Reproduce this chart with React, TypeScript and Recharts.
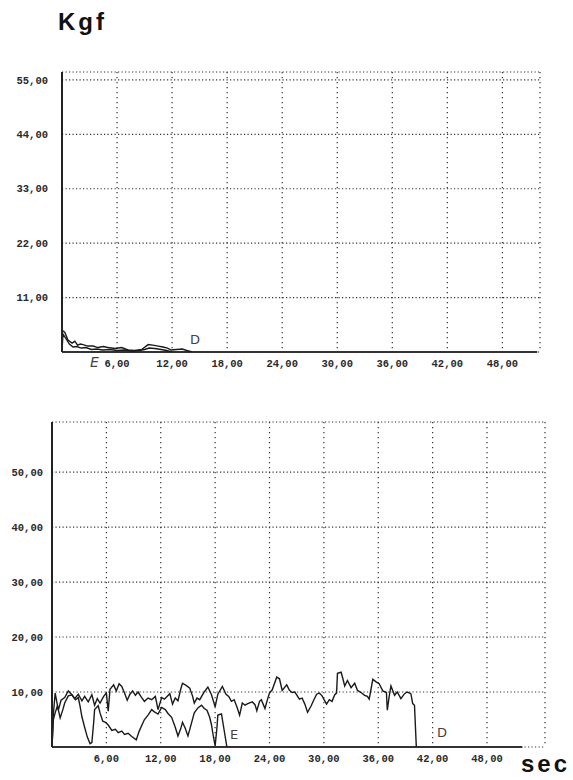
import React from 'react';
import { LineChart, Line, XAxis, YAxis, CartesianGrid, ReferenceLine } from 'recharts';

// tempo (s) e força (Kgf)
const xTicks = [6, 12, 18, 24, 30, 36, 42, 48];
const topYTicks = [11, 22, 33, 44, 55];
const bottomYTicks = [10, 20, 30, 40, 50];

const topD = [
  [0, 0], [0.05, 4.3], [0.3, 4.0], [0.65, 2.4], [1.1, 1.8], [1.4, 2.2], [1.7, 1.4], [2.0, 1.6],
  [2.3, 1.5], [2.8, 1.2], [3.4, 1.2], [3.9, 0.9], [4.5, 1.1], [5.0, 0.9], [5.8, 0.7], [6.5, 0.9],
  [7.2, 0.4], [7.9, 0.3], [8.7, 0.5], [9.1, 1.1], [9.4, 1.5], [9.9, 1.4], [10.5, 1.2], [11.0, 1.0],
  [11.5, 0.8], [11.9, 0.4], [12.5, 0.5], [13.1, 0.6], [13.6, 0.3], [14.2, 0],
];
const topE = [
  [0, 0], [0.1, 3.6], [0.4, 2.8], [0.8, 1.6], [1.2, 1.0], [1.6, 1.1], [2.1, 0.8], [2.6, 0.9],
  [3.2, 0.5], [3.8, 0.6], [4.4, 0.4], [5.2, 0.5], [6.0, 0.3], [6.8, 0.4], [7.6, 0.2], [8.4, 0.3],
  [9.0, 0.5], [9.5, 0.8], [10.1, 0.7], [10.8, 0.5], [11.4, 0.3], [12.0, 0],
];
const bottomD = [
  [0, 0], [0.15, 6], [0.35, 9.8], [0.7, 6.7], [1.0, 8.5], [1.4, 9], [1.8, 10.2], [2.2, 9.5],
  [2.5, 8.8], [2.9, 9.6], [3.3, 8.4], [3.6, 9.2], [4.0, 8.2], [4.4, 9.5], [4.7, 7.6], [5.0, 8.8],
  [5.3, 8.0], [5.7, 9.2], [6.0, 9.8], [6.2, 6.5], [6.4, 10.5], [6.8, 11.3], [7.1, 10.2], [7.4, 11.5],
  [7.7, 11], [8.0, 9.8], [8.3, 8.5], [8.6, 9.6], [8.9, 10.2], [9.2, 9.4], [9.5, 10], [9.8, 9.2],
  [10.2, 8.3], [10.6, 8.9], [11.0, 8.6], [11.4, 9.2], [11.7, 6.8], [12.1, 9], [12.4, 8.7], [13.0, 9.7],
  [13.3, 7.8], [13.6, 8.9], [13.9, 8.4], [14.2, 10.5], [14.4, 11.6], [14.8, 11.2], [15.2, 10.7],
  [15.5, 9.3], [15.7, 8], [16.0, 8.9], [16.3, 8.6], [16.8, 10], [17.2, 10.9], [17.6, 9.5], [18.0, 7.3],
  [18.3, 9.6], [18.8, 11], [19.2, 9.6], [19.5, 9.2], [19.8, 8.3], [20.1, 8.6], [20.4, 7.3], [20.7, 5.8],
  [21.0, 8], [21.3, 7.6], [21.6, 7.9], [22.1, 8.2], [22.4, 7.7], [22.6, 6.6], [22.9, 8.3], [23.1, 8.6],
  [23.5, 7], [23.8, 8.8], [24.0, 9.8], [24.3, 10.4], [24.8, 12.7], [25.1, 12.4], [25.4, 10.3],
  [25.9, 11.3], [26.2, 10.3], [26.5, 9.9], [26.8, 10], [27.3, 8.7], [27.6, 8.9], [27.9, 7.8],
  [28.2, 6.3], [28.6, 7.5], [28.9, 8.6], [29.2, 9.6], [29.5, 9.8], [29.8, 9.3], [30.1, 8.4],
  [30.3, 7.8], [30.6, 8.6], [30.9, 8.3], [31.2, 9.5], [31.4, 9.8], [31.5, 13.4], [31.9, 13.6],
  [32.1, 12.4], [32.3, 11.1], [32.6, 12.1], [33.0, 10.8], [33.4, 11.6], [33.7, 10.3], [34.1, 9.9],
  [34.5, 9.4], [34.8, 9.2], [35.0, 8.7], [35.4, 12.3], [35.8, 11.8], [36.1, 11.5], [36.5, 10.2],
  [36.9, 9.9], [37.0, 6.7], [37.2, 9.1], [37.4, 11.1], [37.8, 9.4], [38.1, 10], [38.5, 8.8],
  [38.9, 9.7], [39.2, 10], [39.6, 9.7], [39.8, 7.9], [40.0, 7.6], [40.2, 0],
];
const bottomE = [
  [0, 0], [0.15, 5], [0.35, 6.2], [0.6, 7.5], [0.9, 5.3], [1.2, 6.8], [1.4, 8], [1.8, 9.3],
  [2.2, 9.5], [2.6, 8.6], [2.9, 9], [3.1, 7.4], [3.3, 5.5], [3.6, 3.6], [3.9, 1.8], [4.2, 0.6],
  [4.4, 0.8], [4.6, 4.5], [4.7, 6.8], [5.1, 7.5], [5.3, 6.2], [5.6, 4.7], [5.9, 4.5], [6.2, 4],
  [6.6, 3], [7.0, 3.2], [7.3, 2.6], [7.7, 2.9], [8.0, 2.3], [8.4, 2.5], [8.8, 1.9], [9.3, 1.3],
  [9.6, 2.8], [9.9, 3.9], [10.2, 5], [10.6, 5.8], [11.0, 6.8], [11.3, 6.4], [11.7, 6], [12.1, 7.2],
  [12.5, 6.8], [12.8, 6.1], [13.2, 5.4], [13.6, 3.6], [13.9, 2], [14.2, 3.3], [14.4, 4.5], [14.7, 3.4],
  [15.0, 2], [15.3, 3.8], [15.7, 6.2], [16.1, 7.1], [16.5, 7.6], [16.8, 7], [17.1, 6.7], [17.4, 5.4],
  [17.6, 4], [17.8, 2], [18.0, 0.2], [18.2, 3.5], [18.3, 5.8], [18.7, 6], [19.0, 3], [19.3, 0],
];

const toPoints = (arr: number[][]) => arr.map(([t, v]) => ({ t, v }));
const fmt = (v: number) => v.toFixed(2).replace('.', ',');

const tickStyle = { fill: '#2a2a2a', fontSize: 10.5, fontWeight: 700, fontFamily: 'Liberation Mono, monospace' };
const hand = { position: 'absolute' as const, fontFamily: 'DejaVu Sans', color: '#444', fontSize: 14, fontWeight: 400 };

function Painel({ top, height, margin, yWidth, yMax, yTicks, xMax, axisEnd, yMargin, series }: any) {
  return (
    <div style={{ position: 'absolute', left: 0, top }}>
      <LineChart width={573} height={height} margin={margin}>
        <CartesianGrid horizontal={false} stroke="#333" strokeWidth={1.2} strokeDasharray="1.2 3.8" />
        <CartesianGrid vertical={false} stroke="#333" strokeWidth={1.2} strokeDasharray="1.2 2.3" />
        <XAxis
          type="number"
          dataKey="t"
          domain={[0, xMax]}
          ticks={xTicks}
          allowDataOverflow
          axisLine={false}
          tickLine={false}
          tickSize={0}
          tickMargin={8}
          height={28}
          tick={tickStyle}
          tickFormatter={fmt}
        />
        <YAxis
          type="number"
          domain={[0, yMax]}
          ticks={yTicks}
          allowDataOverflow
          width={yWidth}
          axisLine={{ stroke: '#222', strokeWidth: 2 }}
          tickLine={false}
          tickSize={0}
          tickMargin={yMargin}
          tick={tickStyle}
          tickFormatter={fmt}
        />
        <ReferenceLine
          segment={[{ x: 0, y: 0 }, { x: axisEnd, y: 0 }]}
          stroke="#333"
          strokeWidth={2}
          ifOverflow="visible"
        />
        {series.map((s: number[][], i: number) => (
          <Line
            key={i}
            data={toPoints(s)}
            dataKey="v"
            type="linear"
            stroke="#1a1a1a"
            strokeWidth={1.4}
            dot={false}
            isAnimationActive={false}
          />
        ))}
      </LineChart>
    </div>
  );
}

export default function App() {
  return (
    <div style={{ position: 'absolute', left: 0, top: 0, width: 573, height: 780, background: '#fff', overflow: 'hidden' }}>
      <div style={{ position: 'absolute', left: 58, top: 8, fontFamily: 'Liberation Sans, Arial', fontWeight: 700, fontSize: 24, letterSpacing: 3, color: '#111' }}>
        Kgf
      </div>
      <Painel
        top={0}
        height={380}
        margin={{ top: 72, right: 33, bottom: 0, left: 0 }}
        yWidth={62}
        yMax={56.6}
        yTicks={topYTicks}
        xMax={52.1}
        axisEnd={51.8}
        yMargin={14}
        series={[topD, topE]}
      />
      <Painel
        top={390}
        height={390}
        margin={{ top: 32, right: 28, bottom: 5, left: 0 }}
        yWidth={52}
        yMax={59.1}
        yTicks={bottomYTicks}
        xMax={54.4}
        axisEnd={51.9}
        yMargin={9}
        series={[bottomD, bottomE]}
      />
      <div style={{ ...hand, left: 90, top: 354, fontStyle: 'italic' }}>E</div>
      <div style={{ ...hand, left: 190, top: 332, fontSize: 13 }}>D</div>
      <div style={{ ...hand, left: 230, top: 727, fontSize: 13 }}>E</div>
      <div style={{ ...hand, left: 437, top: 725, fontSize: 13 }}>D</div>
      <div style={{ position: 'absolute', left: 521, top: 750, fontFamily: 'Liberation Sans, Arial', fontWeight: 700, fontSize: 24, letterSpacing: 3, color: '#111' }}>
        sec
      </div>
    </div>
  );
}
